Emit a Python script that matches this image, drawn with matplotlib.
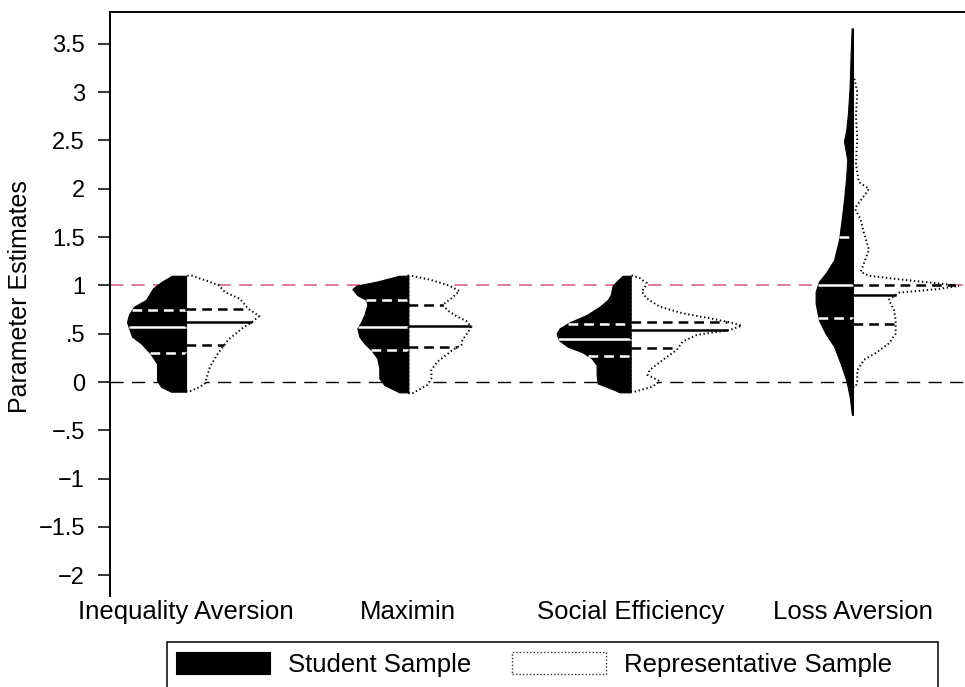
import numpy as np
import matplotlib
matplotlib.use("Agg")
import matplotlib.pyplot as plt
from matplotlib.patches import Polygon, Patch, Rectangle

plt.rcParams['font.family'] = ['Liberation Sans', 'DejaVu Sans']
plt.rcParams['lines.scale_dashes'] = False

categories = ["Inequality Aversion", "Maximin", "Social Efficiency", "Loss Aversion"]

# Kernel density profiles (estimate grid, relative density) -- student sample
ia_student_y = [-0.10, -0.05, 0.02, 0.10, 0.19, 0.30, 0.40, 0.47, 0.56, 0.62, 0.70, 0.78, 0.85, 0.97, 1.04, 1.10]
ia_student_d = [0.15, 0.25, 0.29, 0.29, 0.29, 0.36, 0.45, 0.54, 0.57, 0.59, 0.57, 0.52, 0.40, 0.33, 0.24, 0.14]
mx_student_y = [-0.107, -0.031, 0.038, 0.142, 0.245, 0.331, 0.40, 0.47, 0.556, 0.625, 0.694, 0.797, 0.849, 0.90, 0.962, 0.997, 1.041, 1.10]
mx_student_d = [0.09, 0.24, 0.29, 0.29, 0.31, 0.37, 0.44, 0.49, 0.51, 0.47, 0.44, 0.41, 0.42, 0.51, 0.56, 0.52, 0.31, 0.09]
se_student_y = [-0.107, -0.083, -0.014, 0.072, 0.176, 0.245, 0.307, 0.366, 0.435, 0.504, 0.556, 0.618, 0.694, 0.78, 0.849, 0.90, 0.997, 1.041, 1.10]
se_student_d = [0.11, 0.16, 0.33, 0.34, 0.34, 0.39, 0.48, 0.63, 0.72, 0.74, 0.71, 0.61, 0.44, 0.31, 0.23, 0.20, 0.18, 0.14, 0.08]
la_student_y = [-0.34, -0.15, 0.02, 0.19, 0.37, 0.50, 0.64, 0.815, 0.935, 1.04, 1.125, 1.26, 1.47, 1.68, 1.88, 2.13, 2.30, 2.49, 2.61, 2.78, 3.06, 3.40, 3.66]
la_student_d = [0.01, 0.033, 0.067, 0.123, 0.19, 0.273, 0.34, 0.373, 0.373, 0.34, 0.273, 0.19, 0.14, 0.113, 0.09, 0.067, 0.057, 0.09, 0.067, 0.05, 0.033, 0.023, 0.013]

# Kernel density profiles -- representative sample
ia_repr_y = [-0.10, -0.05, -0.013, 0.055, 0.159, 0.297, 0.435, 0.555, 0.62, 0.683, 0.76, 0.86, 0.93, 1.00, 1.05, 1.10]
ia_repr_d = [0.03, 0.14, 0.19, 0.21, 0.24, 0.32, 0.42, 0.56, 0.66, 0.73, 0.62, 0.54, 0.39, 0.33, 0.20, 0.06]
mx_repr_y = [-0.117, -0.031, 0.038, 0.124, 0.21, 0.28, 0.331, 0.383, 0.435, 0.504, 0.573, 0.631, 0.676, 0.728, 0.797, 0.866, 0.942, 0.997, 1.056, 1.10]
mx_repr_d = [0.04, 0.19, 0.23, 0.23, 0.29, 0.38, 0.44, 0.53, 0.54, 0.59, 0.63, 0.58, 0.49, 0.41, 0.34, 0.43, 0.51, 0.41, 0.23, 0.03]
se_repr_y = [-0.10, -0.048, 0.01, 0.072, 0.124, 0.228, 0.331, 0.418, 0.487, 0.538, 0.583, 0.618, 0.66, 0.711, 0.78, 0.866, 0.938, 0.973, 1.024, 1.076, 1.10]
se_repr_d = [0.04, 0.22, 0.29, 0.17, 0.19, 0.32, 0.46, 0.52, 0.66, 0.99, 1.11, 0.99, 0.79, 0.52, 0.29, 0.16, 0.11, 0.14, 0.16, 0.09, 0.02]
la_repr_y = [-0.05, 0.0, 0.12, 0.23, 0.30, 0.40, 0.50, 0.64, 0.745, 0.85, 0.925, 0.96, 0.995, 1.02, 1.055, 1.10, 1.14, 1.23, 1.37, 1.54, 1.68, 1.78, 1.81, 1.95, 2.0, 2.07, 2.25, 2.52, 2.75, 3.0, 3.13]
la_repr_d = [0.027, 0.043, 0.043, 0.11, 0.227, 0.36, 0.427, 0.427, 0.41, 0.36, 0.46, 0.83, 1.06, 0.86, 0.53, 0.16, 0.077, 0.11, 0.16, 0.11, 0.077, 0.027, 0.027, 0.127, 0.16, 0.06, 0.03, 0.043, 0.03, 0.043, 0.017]

# Quartiles and medians
student_q25 = [0.30, 0.33, 0.27, 0.666]
student_med = [0.565, 0.565, 0.45, 1.0]
student_q75 = [0.745, 0.845, 0.605, 1.50]
repr_q25 = [0.38, 0.36, 0.35, 0.60]
repr_med = [0.62, 0.575, 0.535, 0.905]
repr_q75 = [0.76, 0.80, 0.624, 1.0]

yticks = [-2, -1.5, -1, -0.5, 0, 0.5, 1, 1.5, 2, 2.5, 3, 3.5]
legend_labels = ["Student Sample", "Representative Sample"]

student_profiles = [(ia_student_y, ia_student_d), (mx_student_y, mx_student_d),
                    (se_student_y, se_student_d), (la_student_y, la_student_d)]
repr_profiles = [(ia_repr_y, ia_repr_d), (mx_repr_y, mx_repr_d),
                 (se_repr_y, se_repr_d), (la_repr_y, la_repr_d)]

WIDTH_SCALE = 0.45  # density -> x-axis units
QDASH = (0, (7.0, 4.3))
REFDASH = (0, (9.5, 6.0))
DOTS = (0, (1.0, 1.9))
W, H = 965, 687


def tick_label(v):
    s = f"{abs(v):g}"
    if s.startswith("0."):
        s = s[1:]
    return ("\u2212" + s) if v < 0 else s


fig = plt.figure(figsize=(W / 100, H / 100), dpi=100)
ax = fig.add_axes([110 / W, 1 - 596 / H, 1 - 110 / W, (596 - 12) / H])

ax.axhline(0, color="black", lw=1.0, ls=REFDASH, zorder=1)
ax.axhline(1, color="#d4567c", lw=1.1, ls=REFDASH, zorder=1)

positions = np.arange(1, len(categories) + 1)
for i, pos in enumerate(positions):
    sy, sd = np.asarray(student_profiles[i][0]), np.asarray(student_profiles[i][1]) * WIDTH_SCALE
    ry, rd = np.asarray(repr_profiles[i][0]), np.asarray(repr_profiles[i][1]) * WIDTH_SCALE

    # student half: solid black on the left
    ax.fill_betweenx(sy, pos - sd, pos, facecolor="black", edgecolor="black", lw=0.8, zorder=3)
    for val, ls in ((student_q25[i], QDASH), (student_med[i], "-"), (student_q75[i], QDASH)):
        w = np.interp(val, sy, sd)
        ax.plot([pos - w, pos], [val, val], color="white", lw=1.8, ls=ls,
                solid_capstyle="butt", dash_capstyle="butt", zorder=4)

    # representative half: white with dotted outline on the right
    xs = np.concatenate([[pos], pos + rd, [pos]])
    ys = np.concatenate([[ry[0]], ry, [ry[-1]]])
    ax.add_patch(Polygon(np.column_stack([xs, ys]), closed=True, facecolor="white",
                         edgecolor="none", zorder=2))
    ax.add_patch(Polygon(np.column_stack([xs, ys]), closed=True, facecolor="none",
                         edgecolor="black", lw=1.4, ls=DOTS, zorder=5))
    for val, ls in ((repr_q25[i], QDASH), (repr_med[i], "-"), (repr_q75[i], QDASH)):
        w = np.interp(val, ry, rd)
        ax.plot([pos, pos + w], [val, val], color="black", lw=1.8, ls=ls,
                solid_capstyle="butt", dash_capstyle="butt", zorder=4)

ax.set_xlim(0.658, 4.504)
ax.set_ylim(-2.215, 3.83)
ax.set_xticks(positions)
ax.set_xticklabels(categories, fontsize=18.5)
ax.tick_params(axis="x", length=0, pad=3)
ax.set_yticks(yticks)
ax.set_yticklabels([tick_label(v) for v in yticks], fontsize=17)
ax.tick_params(axis="y", length=9, width=1.1, pad=9)
fig.text(20 / W, 1 - 297 / H, "Parameter Estimates", rotation=90,
         ha="center", va="center", fontsize=18)
for side in ("right", "bottom"):
    ax.spines[side].set_visible(False)
for side in ("left", "top"):
    ax.spines[side].set_linewidth(1.4)

# legend: keys and labels, with a box that runs off the lower edge
handles = [Patch(facecolor="black", edgecolor="black", lw=0.8),
           Patch(facecolor="white", edgecolor="#333333", lw=1.0, ls=(0, (1.0, 1.5)))]
fig.legend(handles, legend_labels, ncol=2, loc="upper left",
           bbox_to_anchor=(176 / W, 1 - 652 / H), fontsize=18.5, frameon=False,
           handlelength=3.66, handleheight=0.95, handletextpad=0.7,
           columnspacing=1.6, borderpad=0, borderaxespad=0)
fig.patches.append(Rectangle((167 / W, 1 - 720 / H), (938 - 167) / W, (720 - 642) / H,
                             transform=fig.transFigure, facecolor="none",
                             edgecolor="black", lw=1.1))

fig.savefig("out.png", dpi=100)
